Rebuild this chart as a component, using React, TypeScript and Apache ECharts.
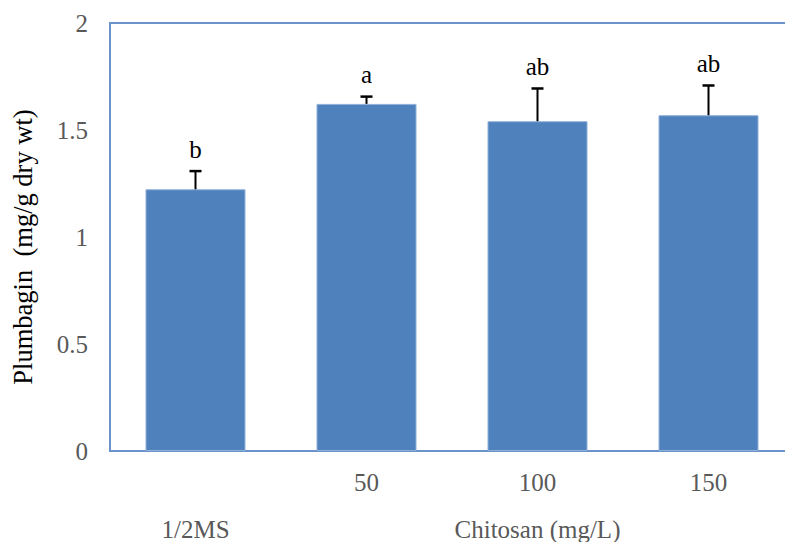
import React, { useEffect, useRef } from "react";
import * as echarts from "echarts";

const tickLabels = ["", "50", "100", "150"];
const groupLabels = ["1/2MS", "", "Chitosan (mg/L)", ""];
const values = [1.223, 1.622, 1.541, 1.569];
const errors = [0.085, 0.034, 0.153, 0.139];
const letters = ["b", "a", "ab", "ab"];
const yTitle = "Plumbagin  (mg/g dry wt)";

const FONT = "'Liberation Serif', 'Times New Roman', serif";
const BLUE = "#4F81BD";
const FRAME = "#6A93C9";

export default function App() {
  const ref = useRef<HTMLDivElement>(null);
  useEffect(() => {
    if (!ref.current) return;
    const chart = echarts.init(ref.current, undefined, { renderer: "svg" });
    chart.setOption({
      animation: false,
      grid: {
        left: 110,
        top: 23,
        width: 684,
        height: 428,
        show: true,
        borderColor: FRAME,
        borderWidth: 2,
        containLabel: false,
        outerBoundsMode: "none",
      },
      xAxis: [
        {
          type: "category",
          data: tickLabels,
          position: "bottom",
          axisLine: { show: true, lineStyle: { color: FRAME, width: 2 } },
          axisTick: { show: false },
          axisLabel: {
            color: "#595959",
            fontFamily: FONT,
            fontSize: 25,
            margin: 19,
            interval: 0,
          },
        },
        {
          type: "category",
          data: groupLabels,
          position: "bottom",
          offset: 0,
          axisLine: { show: false },
          axisTick: { show: false },
          axisLabel: {
            color: "#595959",
            fontFamily: FONT,
            fontSize: 25,
            margin: 66,
            interval: 0,
          },
        },
      ],
      yAxis: {
        type: "value",
        min: 0,
        max: 2,
        interval: 0.5,
        name: yTitle,
        nameLocation: "middle",
        nameRotate: 90,
        nameGap: 74,
        nameTextStyle: {
          color: "#000",
          fontFamily: FONT,
          fontSize: 26.5,
          padding: [0, 20, 0, 0],
        },
        axisLine: { show: true, lineStyle: { color: FRAME, width: 2 } },
        axisTick: { show: false },
        splitLine: { show: false },
        axisLabel: {
          color: "#595959",
          fontFamily: FONT,
          fontSize: 25,
          margin: 22,
          formatter: (v: number) => String(v),
        },
      },
      series: [
        {
          type: "bar",
          data: values,
          barWidth: 100,
          itemStyle: { color: BLUE, borderColor: "#8FB0DA", borderWidth: 1 },
        },
        {
          type: "custom",
          data: values.map((v, i) => [i, v, errors[i]]),
          z: 10,
          renderItem: (params: any, api: any) => {
            const i = api.value(0);
            const v = api.value(1);
            const e = api.value(2);
            const base = api.coord([i, v]);
            const top = api.coord([i, v + e]);
            const x = base[0];
            return {
              type: "group",
              children: [
                {
                  type: "line",
                  shape: { x1: x, y1: base[1], x2: x, y2: top[1] },
                  style: { stroke: "#000", lineWidth: 2 },
                },
                {
                  type: "line",
                  shape: { x1: x - 6, y1: top[1], x2: x + 6, y2: top[1] },
                  style: { stroke: "#000", lineWidth: 2.5 },
                },
                {
                  type: "text",
                  x: x,
                  y: top[1] - 22,
                  style: {
                    text: letters[params.dataIndex],
                    fill: "#000",
                    font: `25px ${FONT}`,
                    align: "center",
                    verticalAlign: "middle",
                  },
                },
              ],
            };
          },
        },
      ],
    });
    return () => chart.dispose();
  }, []);
  return (
    <div
      ref={ref}
      style={{ position: "absolute", left: 0, top: 0, width: 785, height: 542 }}
    />
  );
}
